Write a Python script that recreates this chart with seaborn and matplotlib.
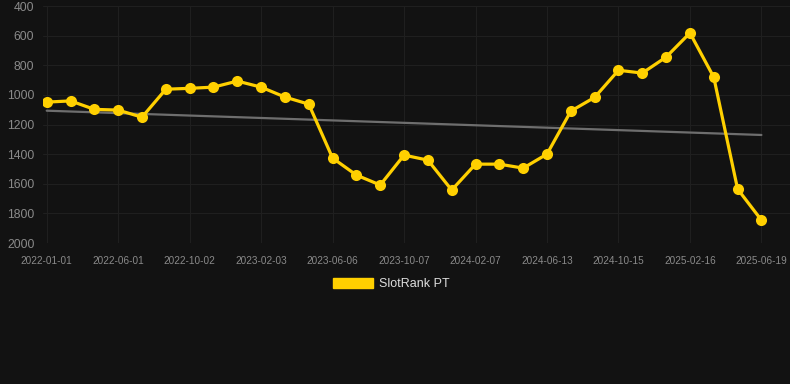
import numpy as np
import pandas as pd
import matplotlib
matplotlib.use('Agg')
import matplotlib.pyplot as plt
from matplotlib.patches import Patch
import seaborn as sns

# rank values per snapshot (lower = better, axis is inverted)
rank = [1048, 1040, 1097, 1102, 1150, 961, 955, 947, 906, 947,
        1014, 1062, 1426, 1541, 1608, 1406, 1440, 1642, 1467, 1467,
        1494, 1399, 1109, 1016, 833, 852, 744, 581, 880, 1635, 1845]
tick_labels = ['2022-01-01', '2022-06-01', '2022-10-02', '2023-02-03',
               '2023-06-06', '2023-10-07', '2024-02-07', '2024-06-13',
               '2024-10-15', '2025-02-16', '2025-06-19']
trend_ends = [1106, 1270]
series_name = 'SlotRank PT'

bg = '#121212'
yellow = '#FFD000'
grid_c = '#1f1f1f'
tick_c = '#8a8a8a'

df = pd.DataFrame({'idx': np.arange(len(rank)), 'rank': rank})

sns.set_style('dark')
plt.rcParams['font.family'] = ['Liberation Sans', 'DejaVu Sans']

fig = plt.figure(figsize=(7.9, 3.84), dpi=100, facecolor=bg)
ax = fig.add_axes([0.054, 0.367, 0.946, 0.617])
ax.set_facecolor(bg)

# trend line
ax.plot([0, len(rank) - 1], trend_ends, color='#6e6e6e', lw=1.6, zorder=2)

sns.lineplot(data=df, x='idx', y='rank', ax=ax, color=yellow, lw=2.3,
             marker='o', markersize=8, markeredgecolor=yellow,
             markeredgewidth=0, zorder=3)

ax.set_ylim(2000, 400)
ax.set_xlim(-0.17, 31.2)
ax.set_yticks(range(400, 2001, 200))
ax.set_xticks(range(0, len(rank), 3))
ax.set_xticklabels(tick_labels)
ax.tick_params(axis='y', colors=tick_c, labelsize=8.8, length=0, pad=6)
ax.tick_params(axis='x', colors=tick_c, labelsize=7.2, length=0, pad=9)
ax.set_xlabel('')
ax.set_ylabel('')
ax.grid(True, color=grid_c, lw=0.8)
for s in ax.spines.values():
    s.set_visible(False)

fig.legend(handles=[Patch(facecolor=yellow, edgecolor=yellow, label=series_name)],
           loc='center', bbox_to_anchor=(391 / 790, 1 - 284 / 384),
           frameon=False, fontsize=9, labelcolor='#dddddd',
           handlelength=3.2, handleheight=0.85, handletextpad=0.5)

fig.savefig('out.png', dpi=100, facecolor=bg)
